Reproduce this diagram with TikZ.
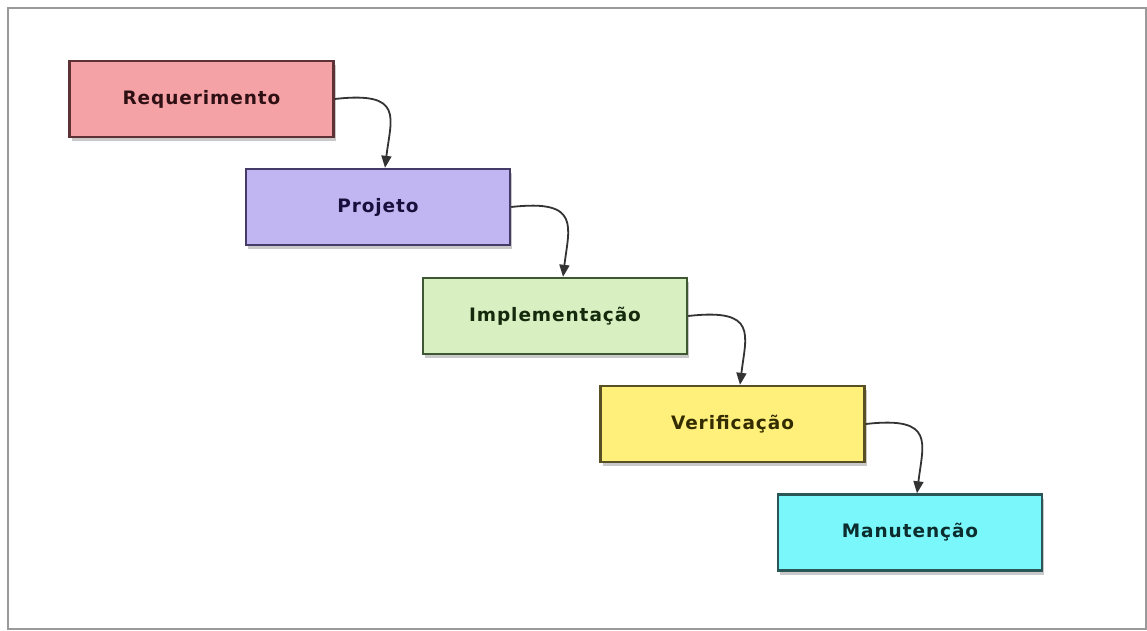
\documentclass[tikz,border=0pt]{standalone}
\usepackage{fontspec}
\newfontfamily\boxfont[LetterSpace=5]{DejaVu Sans Bold}
\usetikzlibrary{shadows,arrows.meta}
\definecolor{fillA}{HTML}{F4A2A6}
\definecolor{fillB}{HTML}{C2B6F2}
\definecolor{fillC}{HTML}{D8EFC2}
\definecolor{fillD}{HTML}{FFF07C}
\definecolor{fillE}{HTML}{7AF7FA}
\definecolor{lineA}{HTML}{5E3234}
\definecolor{lineB}{HTML}{463A66}
\definecolor{lineC}{HTML}{3E5834}
\definecolor{lineD}{HTML}{585024}
\definecolor{lineE}{HTML}{2A5658}
\definecolor{textA}{HTML}{2E1014}
\definecolor{textB}{HTML}{18103C}
\definecolor{textC}{HTML}{142A0C}
\definecolor{textD}{HTML}{332C00}
\definecolor{textE}{HTML}{0C2C2E}
\definecolor{framegray}{HTML}{9A9A9A}
\tikzset{
  phase/.style={draw, line width=2.4pt, minimum width=264pt, minimum height=76pt,
    inner sep=0pt, font=\boxfont\fontsize{18.5}{20}\selectfont,
    drop shadow={shadow xshift=2pt, shadow yshift=-4pt, opacity=0.35, fill=black!60}},
  flow/.style={line width=1.8pt, draw=black!80, -{Triangle[length=12pt,width=10pt]}},
  framebox/.style={draw=framegray, line width=1.6pt}
}
\begin{document}
\begin{tikzpicture}[x=1pt,y=-1pt]
\useasboundingbox (0,0) rectangle (1147,630);
\fill[white] (0,0) rectangle (1147,630);
\draw[framebox] (8,8) rectangle (1146,629);
\node[phase, fill=fillA, draw=lineA, text=textA] (req) at (201.5,99) {Requerimento};
\node[phase, fill=fillB, draw=lineB, text=textB] (proj) at (378,207) {Projeto};
\node[phase, fill=fillC, draw=lineC, text=textC] (impl) at (555,316) {Implementação};
\node[phase, fill=fillD, draw=lineD, text=textD] (verif) at (732.5,424) {Verificação};
\node[phase, fill=fillE, draw=lineE, text=textE] (manut) at (910,532.5) {Manutenção};
\draw[flow] (req.east) .. controls +(70,-8) and +(6,-50) .. ([xshift=7pt]proj.north);
\draw[flow] (proj.east) .. controls +(70,-8) and +(6,-50) .. ([xshift=8pt]impl.north);
\draw[flow] (impl.east) .. controls +(70,-8) and +(6,-50) .. ([xshift=7.5pt]verif.north);
\draw[flow] (verif.east) .. controls +(70,-8) and +(6,-50) .. ([xshift=7pt]manut.north);
\end{tikzpicture}
\end{document}
